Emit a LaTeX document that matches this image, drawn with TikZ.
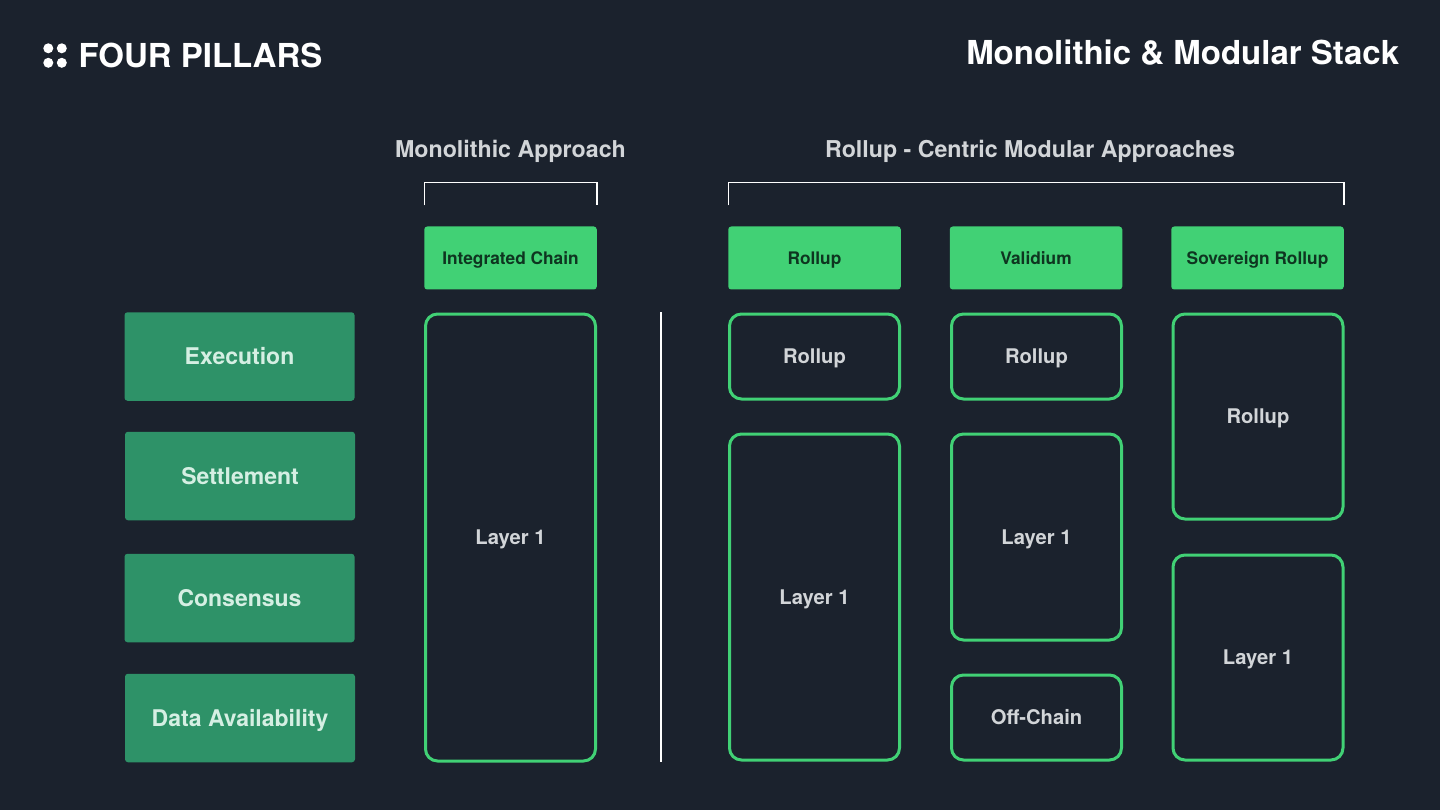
\documentclass[tikz,border=0pt]{standalone}
\usepackage{fontspec}
\setmainfont{TeX Gyre Heros}
\definecolor{bgdark}{HTML}{1B222D}
\definecolor{pillargreen}{HTML}{2E9268}
\definecolor{pillartext}{HTML}{D5EFE3}
\definecolor{headgreen}{HTML}{41D175}
\definecolor{headtext}{HTML}{0E3520}
\definecolor{softgray}{HTML}{D2D5D8}
\tikzset{
  pillar/.style={fill=pillargreen,rounded corners=3pt,minimum width=230pt,minimum height=88.5pt,text=pillartext,text height=16.5pt,text depth=0pt,font=\bfseries\fontsize{23}{26}\selectfont},
  head/.style={fill=headgreen,rounded corners=3pt,minimum width=172.5pt,minimum height=63pt,text=headtext,text height=12.5pt,text depth=0pt,font=\bfseries\fontsize{17.3}{20}\selectfont},
  layerbox/.style={draw=headgreen,line width=3pt,rounded corners=12pt,minimum width=170pt,text=softgray,text height=14.7pt,text depth=0pt,font=\bfseries\fontsize{20.2}{24}\selectfont},
  approach/.style={text=softgray,text height=16.6pt,text depth=0pt,font=\bfseries\fontsize{23.2}{27}\selectfont},
  bracket/.style={draw=white,line width=1.4pt},
  dot/.style={circle,fill=white,minimum size=10pt,inner sep=0pt}
}
\begin{document}
\begin{tikzpicture}[x=1pt,y=-1pt]
  \fill [bgdark] (0, 0) rectangle (1440, 810);
  \useasboundingbox (0, 0) rectangle (1440, 810);
  % logo and title
  \node [dot] (dotA) at (48.3, 48.3) {};
  \node [dot] (dotB) at (61.8, 48.3) {};
  \node [dot] (dotC) at (48.3, 62.8) {};
  \node [dot] (dotD) at (61.8, 62.8) {};
  \node [anchor=west,inner sep=0pt,text=white,font=\bfseries\fontsize{33}{38}\selectfont] (logo) at (78.5, 55.5) {FOUR PILLARS};
  \node [anchor=east,inner sep=0pt,text=white,font=\bfseries\fontsize{33}{38}\selectfont] (title) at (1399.5, 53) {Monolithic \& Modular Stack};
  % approaches
  \node [approach] (mono) at (510.5, 149.5) {Monolithic Approach};
  \node [approach] (centric) at (1030, 149.5) {Rollup - Centric Modular Approaches};
  \draw [bracket] (424.5, 205.5) -- (424.5, 182.5) -- (597, 182.5) -- (597, 205.5);
  \draw [bracket] (728.5, 205.5) -- (728.5, 182.5) -- (1344, 182.5) -- (1344, 205.5);
  % pillars
  \node [pillar] (exec) at (239.5, 356.5) {Execution};
  \node [pillar] (settle) at (240, 476) {Settlement};
  \node [pillar] (cons) at (239.5, 598) {Consensus};
  \node [pillar] (avail) at (240, 718) {Data Availability};
  % column heads
  \node [head] (integrated) at (510.5, 258) {Integrated Chain};
  \node [head] (rollup) at (814.5, 258) {Rollup};
  \node [head] (validium) at (1036, 258) {Validium};
  \node [head] (sovereign) at (1257.5, 258) {Sovereign Rollup};
  % monolithic column
  \node [layerbox,minimum height=447pt] (monoL) at (510.5, 537.5) {Layer 1};
  \draw [white,line width=1.2pt] (661, 312) -- (661, 762);
  % rollup column
  \node [layerbox,minimum height=85pt] (rollupR) at (814.5, 356.5) {Rollup};
  \node [layerbox,minimum height=326pt] (rollupL) at (814.5, 597) {Layer 1};
  % validium column
  \node [layerbox,minimum height=85pt] (validR) at (1036.5, 356.5) {Rollup};
  \node [layerbox,minimum height=206pt] (validL) at (1036.5, 537) {Layer 1};
  \node [layerbox,minimum height=85pt] (validO) at (1036.5, 717.5) {Off-Chain};
  % sovereign column
  \node [layerbox,minimum height=205pt] (sovR) at (1258, 416.5) {Rollup};
  \node [layerbox,minimum height=205pt] (sovL) at (1258, 657.5) {Layer 1};
\end{tikzpicture}
\end{document}
